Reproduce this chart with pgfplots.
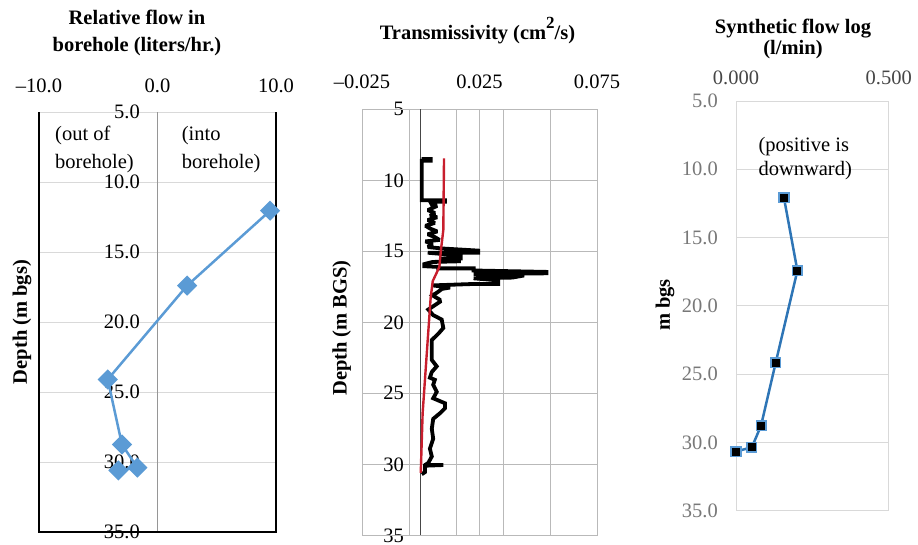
\documentclass[border=0pt]{standalone}
\usepackage{pgfplots}
\pgfplotsset{compat=1.18}
\usepackage{fontspec}
\setmainfont{Liberation Serif}
\definecolor{lblue}{RGB}{91,155,213}
\definecolor{dblue}{RGB}{46,117,182}
\definecolor{gridl}{RGB}{217,217,217}
\definecolor{gridm}{RGB}{185,185,185}
\definecolor{axisg}{RGB}{150,150,150}
\definecolor{tred}{RGB}{200,30,45}
\definecolor{tgray}{RGB}{120,120,120}
\definecolor{dgray}{RGB}{70,70,70}
\begin{document}
\begin{tikzpicture}[font=\fontsize{20.5}{24}\selectfont]
\useasboundingbox (0,0) rectangle (918pt,-544pt);
\pgfplotsset{every axis/.append style={scale only axis, anchor=north west, clip=false,
  axis line style={draw=none}, major tick length=0pt, scaled x ticks=false,
  ymin=5, ymax=35, y dir=reverse, ytick={5,10,15,20,25,30,35},
  xticklabel pos=upper,
  tick label style={font=\fontsize{20.5}{24}\selectfont},
  yticklabel style={anchor=east, inner sep=0pt},
  xticklabel style={anchor=base, inner sep=0pt}}}
% ---------- panel 1
\begin{axis}[at={(39pt,-112pt)}, width=237pt, height=420pt,
  xmin=-10, xmax=10, xtick={-10,0,10}, xticklabels={–10.0,0.0,10.0},
  yticklabels={5.0,10.0,15.0,20.0,25.0,30.0,35.0},
  ymajorgrids, grid style={gridl, line width=0.9pt},
  yticklabel style={xshift=101pt}, xticklabel style={yshift=20pt}]
\draw[axisg, line width=1pt] (axis cs:0,5) -- (axis cs:0,35);
\addplot[lblue, line width=2.5pt, mark=square*, mark size=5.9pt, mark options={rotate=45, solid}]
  coordinates {(9.5,12.05) (2.5,17.4) (-4.2,24.1) (-3.0,28.75) (-1.7,30.4) (-3.3,30.6)};
\draw[black, line width=1.2pt] (axis cs:-10,5) -- (axis cs:-10,35) -- (axis cs:10,35) -- (axis cs:10,5);
\end{axis}
% ---------- panel 2
\begin{axis}[at={(362pt,-109.3pt)}, width=235pt, height=426pt,
  xmin=-0.025, xmax=0.075, xtick={-0.025,-0.005,0.015,0.025,0.035,0.055,0.075},
  xticklabels={–0.025,{},{},0.025,{},{},0.075},
  yticklabels={5,10,15,20,25,30,35},
  grid=major, grid style={gridm, line width=0.9pt},
  yticklabel style={xshift=42pt}, xticklabel style={yshift=21.3pt}]
\draw[gridm, line width=0.9pt] (axis cs:-0.025,5) rectangle (axis cs:0.075,35);
\draw[dgray, line width=0.9pt] (axis cs:0,5) -- (axis cs:0,35);
\addplot[black, line width=3.8pt, line join=miter, miter limit=2] coordinates {
(0.0004,8.5) (0.0042,8.5) (0.0042,8.62) (0.0004,8.62) (0.0004,11.4) (0.0103,11.4) (0.0103,11.5)
(0.004,11.5) (0.005,11.8) (0.007,11.8) (0.003,12.1) (0.006,12.3) (0.004,12.5) (0.007,12.6)
(0.003,12.8) (0.006,13.0) (0.002,13.2) (0.004,13.4) (0.007,13.6) (0.003,13.8) (0.006,14.0)
(0.008,14.2) (0.002,14.3) (0.005,14.5) (0.003,14.7) (0.009,14.8) (0.0245,14.95) (0.0245,15.1)
(0.003,15.1) (0.017,15.3) (0.017,15.5) (0.008,15.5) (0.017,15.7) (0.005,15.75) (0.0015,15.9)
(0.0015,16.05) (0.0075,16.1) (0.0075,16.2) (0.0225,16.2) (0.0225,16.35) (0.0535,16.45)
(0.0535,16.55) (0.0225,16.6) (0.044,16.7) (0.039,16.85) (0.0225,16.9) (0.033,17.05)
(0.033,17.3) (0.0225,17.3) (0.005,17.4) (0.0125,17.55) (0.009,17.65) (0.007,17.9)
(0.005,18.1) (0.008,18.4) (0.0082,18.55) (0.0032,19.1) (0.0053,19.5) (0.0089,19.8)
(0.0096,20.4) (0.0075,20.8) (0.0047,21.25) (0.0047,21.95) (0.0047,22.65) (0.0068,23.1)
(0.0047,23.5) (0.0039,23.9) (0.006,24.05) (0.0053,24.4) (0.0068,24.9) (0.0053,25.35)
(0.0103,25.7) (0.0103,26.05) (0.0082,26.4) (0.0053,26.8) (0.0047,27.5) (0.0053,28.2)
(0.0039,28.9) (0.0047,29.45) (0.0032,29.9) (0.0018,30.05) (0.0096,30.05) (0.0018,30.1)
(0.0018,30.55) (0.0004,30.7)};
\addplot[tred, line width=2.4pt] coordinates {
(0.0099,8.45) (0.0096,13.5) (0.0086,14.9) (0.0079,16.1) (0.0068,16.5) (0.0051,17.1)
(0.0042,18.3) (0.0008,26.4) (0.0,30.6)};
\end{axis}
% ---------- panel 3
\begin{axis}[at={(736pt,-101pt)}, width=152.7pt, height=409.7pt,
  xmin=0, xmax=0.5, xtick={0,0.5}, xticklabels={0.000,0.500},
  yticklabels={5.0,10.0,15.0,20.0,25.0,30.0,35.0},
  ymajorgrids, grid style={gridl, line width=0.9pt},
  yticklabel style={xshift=-18pt, text=tgray}, xticklabel style={yshift=17pt, text=dgray}]
\draw[gridl, line width=1pt] (axis cs:0,5) rectangle (axis cs:0.5,35);
\addplot[dblue, line width=2.5pt, mark=square*, mark size=4.8pt,
  mark options={fill=black, draw=lblue, line width=1.5pt}]
  coordinates {(0.157,12.08) (0.201,17.42) (0.130,24.16) (0.082,28.77) (0.052,30.35) (0.0,30.67)};
\end{axis}
% ---------- titles and labels
\begin{scope}[every node/.style={font=\fontsize{20.5}{24}\selectfont\bfseries, inner sep=0pt}]
\node[anchor=base] at (137pt,-24pt) {Relative flow in};
\node[anchor=base] at (137pt,-51pt) {borehole (liters/hr.)};
\node[anchor=base] at (477.5pt,-39pt) {Transmissivity (cm\raisebox{0.5em}{\fontsize{17}{17}\selectfont\bfseries 2}/s)};
\node[anchor=base] at (793pt,-33pt) {Synthetic flow log};
\node[anchor=base] at (793pt,-54pt) {(l/min)};
\node[rotate=90] at (22pt,-322pt) {Depth (m bgs)};
\node[rotate=90] at (341.7pt,-328pt) {Depth (m BGS)};
\node[rotate=90] at (665pt,-305pt) {m bgs};
\end{scope}
\begin{scope}[every node/.style={font=\fontsize{20.5}{24}\selectfont, inner sep=0pt, anchor=base west}]
\node at (55pt,-140pt) {(out of};
\node at (55pt,-168pt) {borehole)};
\node at (181.7pt,-140pt) {(into};
\node at (181.7pt,-168pt) {borehole)};
\node at (758.3pt,-151.7pt) {(positive is};
\node at (758.3pt,-175pt) {downward)};
\end{scope}
\end{tikzpicture}
\end{document}
